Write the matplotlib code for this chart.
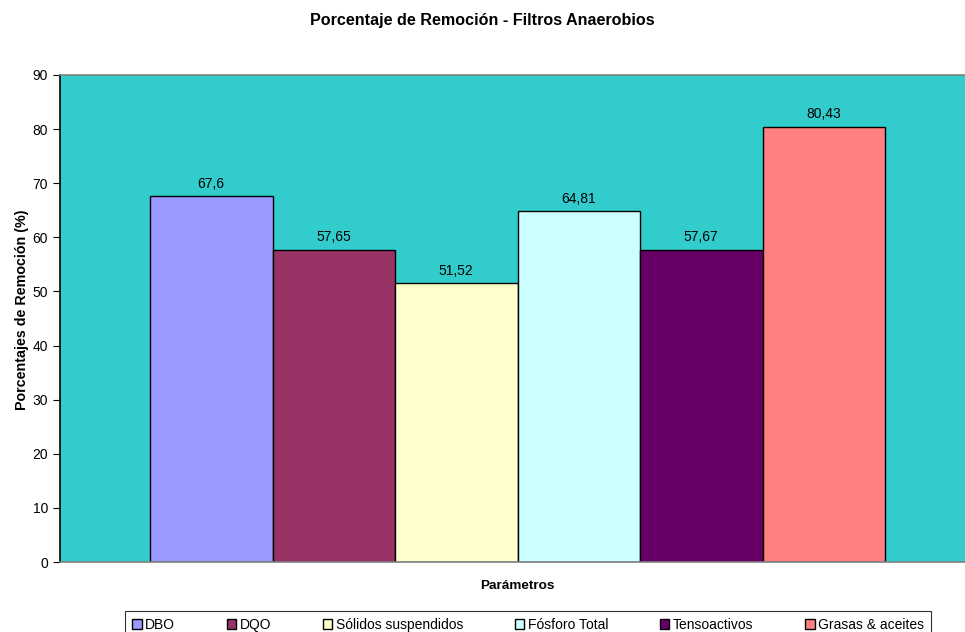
import matplotlib.pyplot as plt
import numpy as np

plt.rcParams['font.family'] = ['Liberation Sans', 'DejaVu Sans']

# data
parametros = ['DBO', 'DQO', 'Sólidos suspendidos', 'Fósforo Total', 'Tensoactivos', 'Grasas & aceites']
remocion = [67.6, 57.65, 51.52, 64.81, 57.67, 80.43]
etiquetas = ['67,6', '57,65', '51,52', '64,81', '57,67', '80,43']
colores = ['#9999FF', '#993366', '#FFFFCC', '#CCFFFF', '#660066', '#FF8080']

fig = plt.figure(figsize=(9.65, 6.32), dpi=100)
# plot area runs past the right edge like the original
ax = fig.add_axes([60/965, 70/632, 915/965, 487/632])
ax.set_facecolor('#33CCCC')

x = np.arange(len(parametros))
bars = ax.bar(x, remocion, width=1.0, color=colores, edgecolor='black', linewidth=1.0,
              label=parametros)
ax.bar_label(bars, labels=etiquetas, padding=4, fontsize=10)

ax.set_xlim(-0.5 - 90/122.5, 5.5 + 90/122.5)
ax.set_ylim(0, 90)
ax.set_yticks(range(0, 91, 10))
ax.set_xticks([])
ax.tick_params(axis='y', labelsize=10, length=5, direction='out')

ax.spines['left'].set_color('black')
ax.spines['top'].set_color('#808080')
ax.spines['bottom'].set_color('#808080')
ax.spines['right'].set_visible(False)
for s in ax.spines.values():
    s.set_linewidth(1.2)

ax.set_xlabel('Parámetros', fontsize=9.7, fontweight='bold', labelpad=13)
fig.text(22/965, 1 - 310/632, 'Porcentajes de Remoción (%)', rotation=90,
         ha='center', va='center', fontsize=10.3, fontweight='bold')
fig.text(482/965, 1 - 20/632, 'Porcentaje de Remoción - Filtros Anaerobios',
         ha='center', va='center', fontsize=11.6, fontweight='bold')

leg = fig.legend(handles=list(bars), labels=parametros, loc='upper center',
                 bbox_to_anchor=(528/965, 1 - 611/632), ncol=6, fontsize=10,
                 frameon=True, fancybox=False, edgecolor='black',
                 handlelength=0.7, handleheight=0.7, handletextpad=0.25,
                 columnspacing=3.7, borderpad=0.5, borderaxespad=0)
leg.get_frame().set_linewidth(0.8)

fig.savefig('out.png', dpi=100)
